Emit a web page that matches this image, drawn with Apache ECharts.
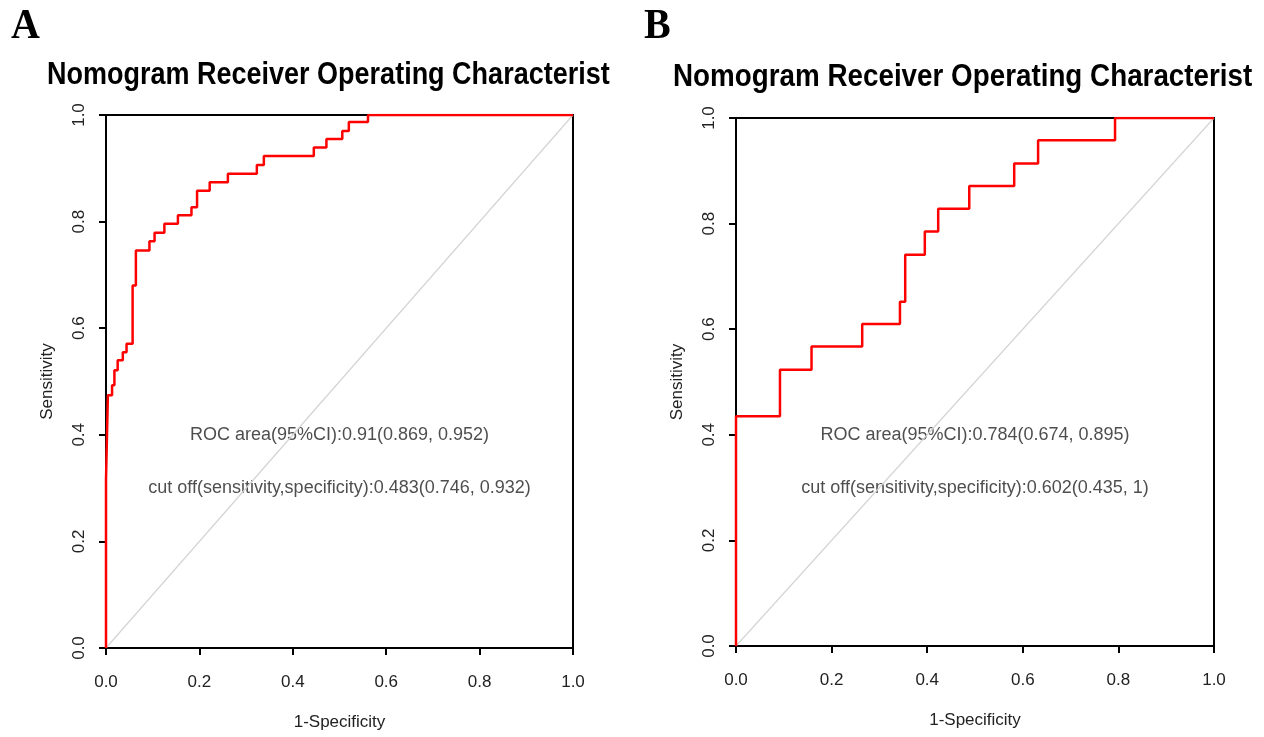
<!DOCTYPE html>
<html>
<head>
<meta charset="utf-8">
<script src="https://cdn.jsdelivr.net/npm/echarts@6/dist/echarts.min.js"></script>
<style>
html, body { margin: 0; padding: 0; background: #fff; }
#chart { width: 1264px; height: 737px; }
</style>
</head>
<body>
<div id="chart"></div>
<script>
// ROC curve A (1-specificity, sensitivity)
var fprA = [0, 0, 0.004, 0.013, 0.018, 0.025, 0.036, 0.044, 0.057, 0.064, 0.093, 0.104, 0.125,
    0.154, 0.183, 0.195, 0.222, 0.261, 0.323, 0.338, 0.445, 0.472, 0.506, 0.520, 0.561, 1.0];
var tprA = [0, 0.315, 0.474, 0.493, 0.521, 0.540, 0.555, 0.571, 0.680, 0.746, 0.763, 0.779, 0.796,
    0.812, 0.827, 0.858, 0.874, 0.890, 0.906, 0.923, 0.939, 0.955, 0.970, 0.987, 1.0, 1.0];

// ROC curve B
var fprB = [0, 0, 0.092, 0.158, 0.264, 0.343, 0.354, 0.395, 0.423, 0.488, 0.582, 0.632, 0.793, 1.0];
var tprB = [0, 0.435, 0.523, 0.567, 0.610, 0.652, 0.741, 0.785, 0.828, 0.871, 0.914, 0.958, 1.0, 1.0];

var tickLabels = ['0.0', '0.2', '0.4', '0.6', '0.8', '1.0'];
var titleText = 'Nomogram Receiver Operating Characterist';
var notesA = ['ROC area(95%CI):0.91(0.869, 0.952)', 'cut off(sensitivity,specificity):0.483(0.746, 0.932)'];
var notesB = ['ROC area(95%CI):0.784(0.674, 0.895)', 'cut off(sensitivity,specificity):0.602(0.435, 1)'];

var font = 'Liberation Sans, Arial, sans-serif';

function pairs(xs, ys) {
    return xs.map(function (x, i) { return [x, ys[i]]; });
}

function makeAxis(idx, isX) {
    return {
        type: 'value',
        gridIndex: idx,
        min: 0,
        max: 1,
        interval: 0.2,
        name: isX ? '1-Specificity' : 'Sensitivity',
        nameLocation: 'middle',
        nameGap: isX ? 66 : 50,
        nameTextStyle: { fontFamily: font, fontSize: 17, color: '#222' },
        axisLine: { show: true, onZero: false, lineStyle: { color: '#000', width: 2 } },
        axisTick: { show: true, length: 7, lineStyle: { color: '#000', width: 2 } },
        axisLabel: {
            fontFamily: font, fontSize: 17, color: '#222',
            margin: isX ? 26 : 18,
            rotate: isX ? 0 : 90,
            formatter: function (v) { return tickLabels[Math.round(v * 5)]; }
        },
        splitLine: { show: false }
    };
}

function noteSeries(idx, notes) {
    return {
        type: 'scatter',
        xAxisIndex: idx,
        yAxisIndex: idx,
        silent: true,
        symbolSize: 1,
        itemStyle: { color: 'rgba(0,0,0,0)' },
        data: [
            { value: [0.5, 0.4], label: { formatter: notes[0] } },
            { value: [0.5, 0.3], label: { formatter: notes[1] } }
        ],
        label: {
            show: true, position: 'inside',
            fontFamily: font, fontSize: 18, color: '#222'
        }
    };
}

function diag(idx) {
    return {
        type: 'line', xAxisIndex: idx, yAxisIndex: idx, silent: true,
        symbol: 'none', data: [[0, 0], [1, 1]],
        lineStyle: { color: '#d4d4d4', width: 1.2 }
    };
}

function roc(idx, xs, ys) {
    return {
        type: 'line', xAxisIndex: idx, yAxisIndex: idx, silent: true,
        symbol: 'none', step: 'end', data: pairs(xs, ys),
        lineStyle: { color: '#ff0000', width: 2.5 }
    };
}

var option = {
    animation: false,
    backgroundColor: '#fff',
    grid: [
        { left: 106, top: 115, width: 467, height: 533, show: true, borderColor: '#000', borderWidth: 2 },
        { left: 736, top: 118, width: 478, height: 528, show: true, borderColor: '#000', borderWidth: 2 }
    ],
    xAxis: [makeAxis(0, true), makeAxis(1, true)],
    yAxis: [makeAxis(0, false), makeAxis(1, false)],
    series: [
        diag(0), roc(0, fprA, tprA), noteSeries(0, notesA),
        diag(1), roc(1, fprB, tprB), noteSeries(1, notesB)
    ],
    graphic: [
        { type: 'text', x: 11, y: 27, scaleY: 1.05,
          style: { text: 'A', font: 'bold 40px Liberation Serif, serif', fill: '#000', verticalAlign: 'middle', textVerticalAlign: 'middle' } },
        { type: 'text', x: 644, y: 27, scaleY: 1.05,
          style: { text: 'B', font: 'bold 40px Liberation Serif, serif', fill: '#000', verticalAlign: 'middle', textVerticalAlign: 'middle' } },
        { type: 'text', x: 47, y: 75, scaleY: 1.15,
          style: { text: titleText, font: 'bold 27px Liberation Sans, Arial, sans-serif', fill: '#000', verticalAlign: 'middle', textVerticalAlign: 'middle' } },
        { type: 'text', x: 673, y: 77, scaleY: 1.12,
          style: { text: titleText, font: 'bold 27.8px Liberation Sans, Arial, sans-serif', fill: '#000', verticalAlign: 'middle', textVerticalAlign: 'middle' } }
    ]
};

var chart = echarts.init(document.getElementById('chart'));
chart.setOption(option);
</script>
</body>
</html>
